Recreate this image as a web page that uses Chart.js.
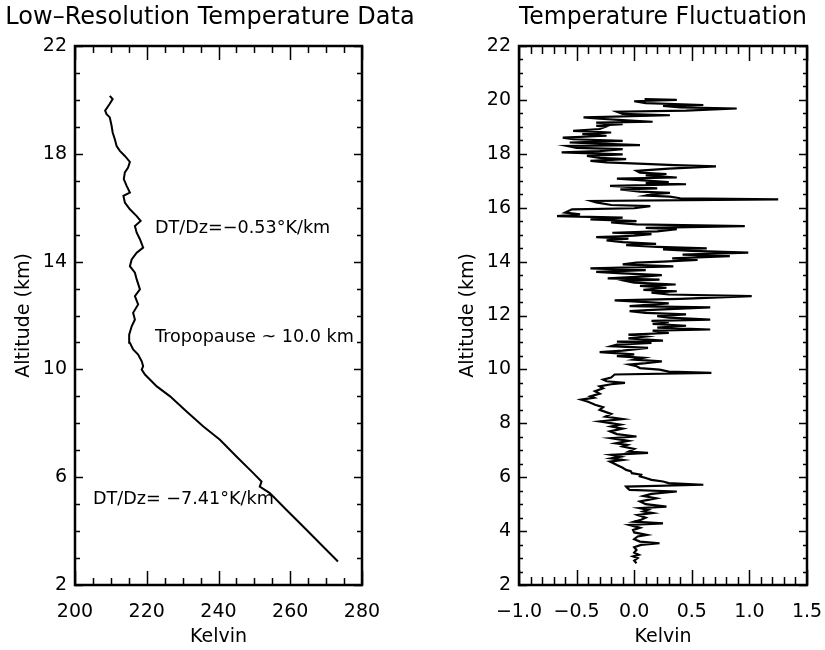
<!DOCTYPE html>
<html><head><meta charset="utf-8">
<script src="https://cdn.jsdelivr.net/npm/chart.js@4.4.0/dist/chart.umd.min.js"></script>
<style>
html,body{margin:0;padding:0;background:#fff;}
#wrap{position:relative;width:825px;height:650px;overflow:hidden;}
#c1{position:absolute;left:0;top:0;}
#c2{position:absolute;left:412px;top:0;}
</style></head><body>
<div id="wrap"><canvas id="c1" width="420" height="650" style="width:420px;height:650px"></canvas><canvas id="c2" width="413" height="650" style="width:413px;height:650px"></canvas></div>
<script>
// ---- Left panel: low-resolution temperature profile ----
const lowresAltitude = [2.87, 3.42, 4.17, 4.79, 5.41, 5.65, 5.84, 6.15, 6.77, 7.39, 7.89, 8.44, 9.0, 9.37, 9.81, 9.99, 10.12, 10.3, 10.55, 10.74, 10.99, 11.29, 11.6, 11.85, 12.1, 12.41, 12.72, 12.97, 13.34, 13.59, 13.83, 14.08, 14.33, 14.52, 14.83, 15.07, 15.32, 15.51, 15.69, 15.94, 16.19, 16.44, 16.56, 16.81, 17.06, 17.31, 17.49, 17.7, 17.92, 18.11, 18.29, 18.54, 18.79, 19.04, 19.35, 19.47, 19.6, 19.84, 20.03, 20.15];
const lowresTemp = [273.3, 269.2, 263.6, 258.9, 254.3, 251.5, 252.0, 249.7, 245.0, 240.4, 235.7, 231.1, 226.5, 222.8, 219.5, 218.6, 219.0, 218.6, 217.6, 216.2, 215.3, 215.1, 215.8, 216.7, 216.2, 217.6, 216.7, 218.1, 217.2, 216.7, 215.3, 215.8, 217.2, 219.0, 218.1, 217.2, 216.7, 218.3, 217.2, 215.3, 213.9, 213.5, 215.3, 214.4, 213.6, 213.9, 214.8, 215.3, 213.9, 212.5, 211.6, 211.1, 210.5, 210.2, 209.7, 208.8, 208.4, 209.6, 210.5, 209.7];
const leftXTicks = [200, 220, 240, 260, 280];
const leftYTicks = [2, 6, 10, 14, 18, 22];

// ---- Right panel: temperature fluctuation ----
const flucAltitude = [
  2.81, 2.9, 3.0, 3.06, 3.12, 3.2, 3.3, 3.4, 3.49, 3.55, 3.61, 3.7, 3.8, 3.86, 3.95, 4.04, 4.12, 4.23, 4.29, 4.35,
  4.42, 4.5, 4.6, 4.67, 4.73, 4.79, 4.85, 4.91, 5.0, 5.1, 5.16, 5.22, 5.3, 5.38, 5.47, 5.53, 5.6, 5.65, 5.72, 5.78,
  5.84, 5.9, 5.97, 6.03, 6.09, 6.15, 6.22, 6.27, 6.35, 6.45, 6.52, 6.58, 6.64, 6.7, 6.76, 6.83, 6.9, 6.95, 7.05, 7.14,
  7.2, 7.26, 7.35, 7.45, 7.51, 7.6, 7.7, 7.8, 7.88, 7.95, 8.07, 8.16, 8.25, 8.35, 8.5, 8.6, 8.69, 8.8, 8.88, 8.95,
  9.0, 9.1, 9.19, 9.3, 9.37, 9.45, 9.5, 9.56, 9.62, 9.7, 9.81, 9.87, 9.92, 9.99, 10.05, 10.12, 10.18, 10.22, 10.3, 10.36,
  10.43, 10.49, 10.56, 10.64, 10.7, 10.8, 10.86, 10.92, 10.98, 11.03, 11.07, 11.15, 11.22, 11.29, 11.35, 11.44, 11.48, 11.55, 11.62, 11.69,
  11.75, 11.8, 11.85, 11.92, 11.98, 12.04, 12.1, 12.16, 12.22, 12.3, 12.35, 12.45, 12.56, 12.62, 12.72, 12.78, 12.85, 12.9, 12.95, 13.03,
  13.1, 13.15, 13.22, 13.28, 13.33, 13.38, 13.45, 13.5, 13.56, 13.62, 13.68, 13.75, 13.82, 13.9, 13.96, 14.0, 14.06, 14.12, 14.2, 14.26,
  14.33, 14.4, 14.45, 14.49, 14.55, 14.61, 14.66, 14.72, 14.79, 14.85, 14.91, 14.96, 15.02, 15.07, 15.12, 15.2, 15.25, 15.32, 15.38, 15.45,
  15.5, 15.57, 15.63, 15.69, 15.75, 15.82, 15.94, 15.98, 16.06, 16.1, 16.2, 16.25, 16.31, 16.35, 16.41, 16.45, 16.5, 16.55, 16.6, 16.68,
  16.72, 16.81, 16.87, 16.91, 16.95, 17.05, 17.08, 17.12, 17.2, 17.25, 17.3, 17.37, 17.45, 17.53, 17.58, 17.62, 17.68, 17.74, 17.8, 17.85,
  17.92, 17.98, 18.05, 18.1, 18.17, 18.22, 18.29, 18.32, 18.38, 18.42, 18.48, 18.54, 18.6, 18.67, 18.73, 18.79, 18.85, 18.92, 19.0, 19.04,
  19.1, 19.16, 19.19, 19.25, 19.3, 19.35, 19.43, 19.48, 19.56, 19.6, 19.68, 19.72, 19.78, 19.81, 19.88, 19.95, 20.0, 20.03
];
const flucValue = [
  0.02, 0.0, 0.03, -0.01, 0.04, 0.0, 0.02, 0.0, 0.06, 0.22, 0.05, 0.0, 0.03, 0.11, 0.0, -0.01, 0.05, -0.04, 0.25, 0.0,
  0.06, 0.1, 0.03, 0.16, 0.08, 0.12, 0.05, 0.28, 0.1, 0.05, 0.12, 0.19, 0.08, 0.15, 0.37, -0.04, -0.06, -0.07, 0.6, 0.3,
  0.25, 0.15, 0.1, 0.05, 0.06, -0.02, -0.03, -0.07, -0.1, -0.15, -0.18, -0.21, -0.1, -0.2, -0.12, -0.2, 0.12, -0.05, 0.0, -0.1,
  -0.06, -0.16, -0.05, -0.2, 0.02, -0.15, -0.21, -0.1, -0.2, -0.12, -0.3, -0.1, -0.25, -0.2, -0.3, -0.27, -0.34, -0.4, -0.46, -0.35,
  -0.38, -0.3, -0.34, -0.27, -0.3, -0.2, -0.08, -0.24, -0.27, -0.2, -0.17, 0.67, 0.3, 0.22, 0.05, 0.02, -0.04, 0.08, 0.24, 0.0,
  0.08, -0.15, 0.0, -0.3, -0.1, 0.12, -0.2, -0.15, 0.15, -0.15, 0.25, -0.05, 0.1, -0.05, 0.3, 0.16, 0.66, 0.2, 0.45, 0.16,
  0.3, 0.15, 0.66, 0.3, 0.2, 0.45, 0.1, -0.04, 0.2, 0.66, -0.04, 0.3, -0.17, 0.4, 1.02, 0.3, 0.15, 0.37, 0.08, 0.28,
  0.05, 0.36, 0.0, -0.07, 0.22, -0.23, 0.1, 0.24, -0.1, -0.33, 0.1, -0.38, 0.34, -0.1, 0.02, 0.25, 0.55, 0.33, 0.83, 0.42,
  0.99, 0.5, 0.25, 0.63, 0.2, -0.07, 0.19, -0.1, -0.24, -0.05, -0.33, 0.0, 0.15, -0.19, 0.2, 0.37, 0.1, 0.96, 0.02, -0.2,
  0.02, -0.38, -0.1, -0.67, -0.47, -0.6, -0.54, 0.0, 0.14, -0.2, -0.33, -0.37, 1.25, 0.4, 0.31, 0.1, 0.16, 0.31, 0.05, -0.12,
  0.2, -0.21, 0.45, 0.1, 0.3, -0.05, -0.15, 0.37, 0.1, 0.28, 0.05, 0.02, 0.3, 0.71, 0.35, 0.14, -0.24, -0.38, -0.07, -0.3,
  -0.41, -0.1, -0.63, -0.3, -0.1, -0.5, -0.58, 0.05, -0.3, -0.56, -0.1, -0.53, -0.62, -0.24, -0.45, -0.2, -0.53, -0.3, -0.25, -0.33,
  -0.1, -0.33, 0.16, -0.1, -0.3, -0.44, 0.31, -0.1, -0.15, 0.45, 0.89, 0.4, 0.25, 0.6, 0.1, 0.0, 0.37, 0.09
];
const rightXTicks = [-1.0, -0.5, 0.0, 0.5, 1.0, 1.5];
const rightYTicks = [2, 4, 6, 8, 10, 12, 14, 16, 18, 20, 22];

const FONT = 'DejaVu Sans';

const frameTicks = {
  id: 'frameTicks',
  afterDatasetsDraw(chart, args, o) {
    const {ctx, chartArea: a, scales: {x, y}} = chart;
    ctx.save();
    ctx.strokeStyle = '#000';
    ctx.lineWidth = 1.5;
    const isMajor = (v, step) => Math.abs(v / step - Math.round(v / step)) < 1e-6;
    ctx.beginPath();
    for (let i = 0; ; i++) {
      const v = x.min + i * o.xMinor;
      if (v > x.max + 1e-9) break;
      const px = Math.round(x.getPixelForValue(v)) + 0.5;
      const len = isMajor(v - x.min, o.xMajor) ? o.xMajLen : o.xMinLen;
      ctx.moveTo(px, a.bottom); ctx.lineTo(px, a.bottom - len);
      ctx.moveTo(px, a.top); ctx.lineTo(px, a.top + len);
    }
    for (let i = 0; ; i++) {
      const v = y.min + i * o.yMinor;
      if (v > y.max + 1e-9) break;
      const py = Math.round(y.getPixelForValue(v)) + 0.5;
      const len = isMajor(v - y.min, o.yMajor) ? o.yMajLen : o.yMinLen;
      ctx.moveTo(a.left, py); ctx.lineTo(a.left + len, py);
      ctx.moveTo(a.right, py); ctx.lineTo(a.right - len, py);
    }
    ctx.stroke();
    ctx.lineWidth = 2.5;
    ctx.strokeRect(a.left, a.top, a.right - a.left, a.bottom - a.top);
    if (o.notes) {
      ctx.fillStyle = '#000';
      ctx.font = '17.6px "' + FONT + '"';
      ctx.textBaseline = 'middle';
      ctx.textAlign = 'left';
      o.notes.forEach(n => ctx.fillText(n.text, x.getPixelForValue(n.x), y.getPixelForValue(n.y)));
    }
    ctx.restore();
  }
};

function baseOptions(cfg) {
  const scales = {
    x: {
      type: 'linear', min: cfg.xMin, max: cfg.xMax,
      afterBuildTicks: s => { s.ticks = cfg.xTicks.map(v => ({value: v})); },
      afterFit: s => { s.height = 65; },
      grid: {display: false, drawTicks: true, tickLength: 16},
      border: {display: false},
      ticks: {color: '#000', padding: 0, maxRotation: 0, autoSkip: false,
        font: {family: FONT, size: 19}, callback: cfg.xFmt},
      title: {display: true, text: 'Kelvin', color: '#000',
        font: {family: FONT, size: 19}, padding: {top: 0, bottom: 2}}
    },
    y: {
      type: 'linear', min: 2, max: 22,
      afterBuildTicks: s => { s.ticks = cfg.yTicks.map(v => ({value: v})); },
      afterFit: s => { s.width = 75; },
      grid: {display: false, drawTicks: false},
      border: {display: false},
      ticks: {color: '#000', padding: 8, autoSkip: false,
        font: {family: FONT, size: 19}},
      title: {display: true, text: 'Altitude (km)', color: '#000',
        font: {family: FONT, size: 19}, padding: {top: 12.5, bottom: 0}}
    },
    // empty spacer axis on the right that only reserves room
    gap: {
      type: 'linear', position: 'right', display: true, min: 0, max: 1,
      afterBuildTicks: s => { s.ticks = []; },
      afterFit: s => { s.width = cfg.rightGap; },
      grid: {display: false, drawTicks: false}, border: {display: false},
      ticks: {display: false}, title: {display: false}
    }
  };
  return {
    responsive: false,
    animation: false,
    layout: {padding: cfg.padding},
    plugins: {
      legend: {display: false},
      tooltip: {enabled: false},
      title: {display: true, text: cfg.title, color: '#000', fullSize: cfg.fullTitle,
        font: {family: FONT, size: 24, weight: 'normal', lineHeight: 1.2},
        padding: {top: 3.6, bottom: 13.6}},
      frameTicks: cfg.ticks
    },
    scales
  };
}

const fmtSigned = v => (v < 0 ? '\u2212' : '') + Math.abs(v).toFixed(1);

new Chart(document.getElementById('c1'), {
  type: 'scatter',
  data: {datasets: [{
    data: lowresAltitude.map((h, i) => ({x: lowresTemp[i], y: h})),
    showLine: true, borderColor: '#000', borderWidth: 2, pointRadius: 0, tension: 0
  }]},
  options: baseOptions({
    title: 'Low\u2013Resolution Temperature Data', fullTitle: true,
    padding: {left: 0, right: 0, top: 0, bottom: 0}, rightGap: 58,
    xMin: 200, xMax: 280, xTicks: leftXTicks, yTicks: leftYTicks,
    xFmt: v => String(v),
    ticks: {xMinor: 5, xMajor: 20, xMajLen: 14, xMinLen: 7, yMinor: 1, yMajor: 4, yMajLen: 8, yMinLen: 5,
      notes: [
        {text: 'DT/Dz=\u22120.53\u00B0K/km', x: 222.3, y: 15.23},
        {text: 'Tropopause ~ 10.0 km', x: 222.3, y: 11.18},
        {text: 'DT/Dz= \u22127.41\u00B0K/km', x: 205.0, y: 5.16}
      ]}
  }),
  plugins: [frameTicks]
});

new Chart(document.getElementById('c2'), {
  type: 'scatter',
  data: {datasets: [{
    data: flucAltitude.map((h, i) => ({x: flucValue[i], y: h})),
    showLine: true, borderColor: '#000', borderWidth: 2.2, pointRadius: 0, tension: 0
  }]},
  options: baseOptions({
    title: 'Temperature Fluctuation', fullTitle: false,
    padding: {left: 32, right: 0, top: 0, bottom: 0}, rightGap: 18,
    xMin: -1, xMax: 1.5, xTicks: rightXTicks, yTicks: rightYTicks,
    xFmt: fmtSigned,
    ticks: {xMinor: 0.1, xMajor: 0.5, xMajLen: 15, xMinLen: 8, yMinor: 0.5, yMajor: 2, yMajLen: 8, yMinLen: 4}
  }),
  plugins: [frameTicks]
});
</script>
</body></html>
